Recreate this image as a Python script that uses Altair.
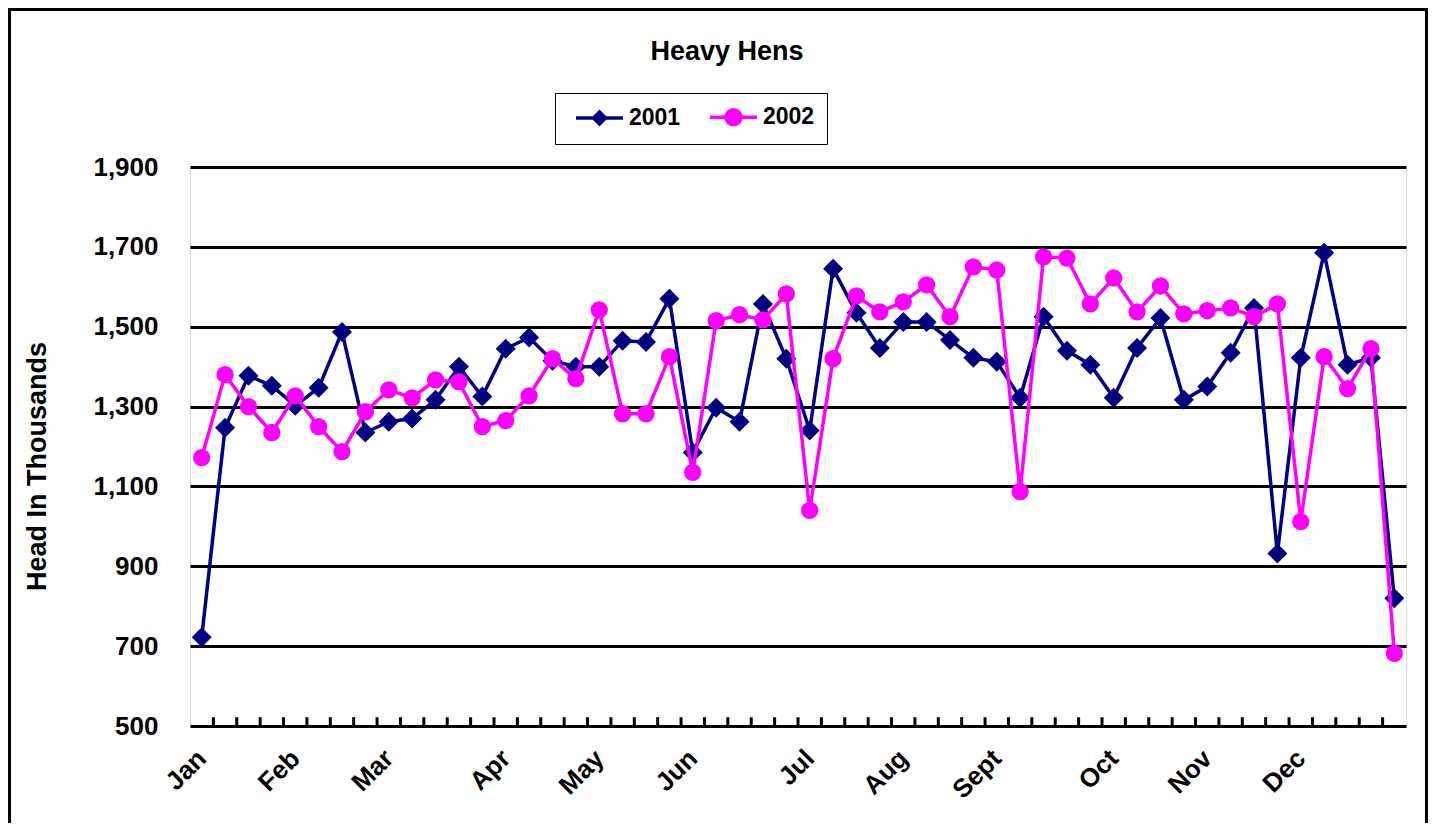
import altair as alt
import pandas as pd

# ---------------- data ----------------
weeks = list(range(52))
heads_2001 = [722, 1247, 1377, 1352, 1302, 1347, 1487, 1235, 1262, 1270, 1317, 1400, 1325,
              1445, 1473, 1415, 1400, 1400, 1465, 1462, 1570, 1185, 1297, 1262, 1557, 1420,
              1240, 1645, 1535, 1447, 1512, 1512, 1467, 1422, 1412, 1322, 1525, 1440, 1405,
              1322, 1447, 1522, 1317, 1350, 1435, 1547, 932, 1422, 1685, 1405, 1422, 820]
heads_2002 = [1172, 1380, 1300, 1235, 1327, 1250, 1187, 1287, 1342, 1322, 1367, 1362, 1250,
              1265, 1327, 1420, 1370, 1542, 1282, 1282, 1425, 1135, 1515, 1530, 1517, 1582,
              1040, 1420, 1577, 1537, 1562, 1605, 1525, 1650, 1642, 1087, 1675, 1672, 1557,
              1622, 1537, 1602, 1532, 1540, 1547, 1525, 1557, 1012, 1425, 1345, 1445, 682]
month_names = ["Jan", "Feb", "Mar", "Apr", "May", "Jun", "Jul", "Aug", "Sept", "Oct", "Nov", "Dec"]
month_weeks = [0, 4, 8, 13, 17, 21, 26, 30, 34, 39, 43, 47]
years = ["2001", "2002"]
colors = ["#000080", "#FF00FF"]
y_ticks = [500, 700, 900, 1100, 1300, 1500, 1700, 1900]
chart_title = "Heavy Hens"
y_title = "Head In Thousands"

FONT = "Liberation Sans"

df = pd.DataFrame({
    "week": weeks * 2,
    "heads": heads_2001 + heads_2002,
    "year": [years[0]] * len(weeks) + [years[1]] * len(weeks),
})
# category boundaries (inner tick marks)
tick_df = pd.DataFrame({"week": [w + 0.5 for w in weeks[:-1]]})

lookup = dict(zip(month_weeks, month_names))
label_expr = "[" + ",".join("'%s'" % lookup.get(w, "") for w in weeks) + "][datum.value]"

x_scale = alt.Scale(domain=[weeks[0] - 0.5, weeks[-1] + 0.5], nice=False, zero=False)
y_scale = alt.Scale(domain=[y_ticks[0], y_ticks[-1]], nice=False, zero=False)

x_enc = alt.X("week:Q", scale=x_scale, axis=alt.Axis(
    values=month_weeks, labelExpr=label_expr, labelAngle=-45, labelAlign="right",
    labelBaseline="middle", labelPadding=28, labelFont=FONT, labelFontSize=26,
    labelFontWeight="bold", labelColor="black", labelFlush=False, labelOverlap=False,
    labelBound=False, ticks=False, tickSize=0, domain=False, grid=False, title=None))
y_enc = alt.Y("heads:Q", scale=y_scale, axis=alt.Axis(
    values=y_ticks, format=",.0f", labelFont=FONT, labelFontSize=26, labelFontWeight="bold",
    labelColor="black", labelPadding=32, ticks=False, tickSize=0, domain=False,
    grid=True, gridColor="black", gridWidth=3, gridOpacity=1,
    title=y_title, titleFont=FONT, titleFontSize=27, titleFontWeight="bold",
    titleColor="black", titleX=-153, titleY=299, titleAngle=-90, titleAlign="center",
    titleBaseline="middle"))

# outer chart border (decoration)
frame = alt.Chart(pd.DataFrame({"f": [0]})).mark_rect(
    fill=None, stroke="black", strokeWidth=3
).encode(x=alt.value(-180.5), x2=alt.value(1236.5), y=alt.value(-157.5), y2=alt.value(700))

# chart title
title = alt.Chart(pd.DataFrame({"t": [chart_title]})).mark_text(
    font=FONT, fontSize=27, fontWeight="bold", color="black", align="center", baseline="middle"
).encode(text="t:N", x=alt.value(537), y=alt.value(-115))

ticks = alt.Chart(tick_df).mark_rule(color="black", strokeWidth=3).encode(
    x=x_enc, y=alt.datum(y_ticks[0]), y2=alt.datum(y_ticks[0] + 22))

layers = [frame, title, ticks]
shapes = ["diamond", "circle"]
sizes = [400, 300]
for yr, col, shp, sz in zip(years, colors, shapes, sizes):
    base = alt.Chart(df).transform_filter(alt.datum.year == yr)
    layers.append(base.mark_line(color=col, strokeWidth=3.5).encode(x=x_enc, y=y_enc))
    layers.append(base.mark_point(shape=shp, filled=True, size=sz, color=col, opacity=1)
                  .encode(x=x_enc, y=y_enc))

# legend
legend_paths = [
    "M-2.35,0L2.35,0M0,-0.6L0.6,0L0,0.6L-0.6,0Z",
    "M-2.35,0L2.35,0M0.75,0A0.75,0.75 0 1,1 -0.75,0A0.75,0.75 0 1,1 0.75,0Z",
]
leg = alt.Legend(title=None, orient="none", legendX=365, legendY=-74, direction="horizontal",
                 symbolSize=400, symbolStrokeWidth=3.5, symbolOffset=20.5,
                 labelFont=FONT, labelFontSize=23, labelFontWeight="bold", labelColor="black",
                 labelOffset=17.5, columnPadding=20, padding=12, strokeColor="black",
                 fillColor="white")
legend_layer = alt.Chart(pd.DataFrame({"year": years})).transform_filter("false").mark_point(
    filled=True, opacity=1
).encode(
    fill=alt.Fill("year:N", scale=alt.Scale(domain=years, range=colors), legend=leg),
    stroke=alt.Stroke("year:N", scale=alt.Scale(domain=years, range=colors), legend=leg),
    shape=alt.Shape("year:N", scale=alt.Scale(domain=years, range=legend_paths), legend=leg),
)
layers.append(legend_layer)

chart = alt.layer(*layers).properties(
    width=1216, height=559,
    padding={"left": 182, "top": 159, "right": 22, "bottom": 97},
    autosize=alt.AutoSizeParams(type="none"),
).configure_view(stroke="black", strokeWidth=3).configure_legend(
    strokeWidth=3
).configure(background="white")

chart.save("out.html", embed_options={"renderer": "svg", "actions": False})
